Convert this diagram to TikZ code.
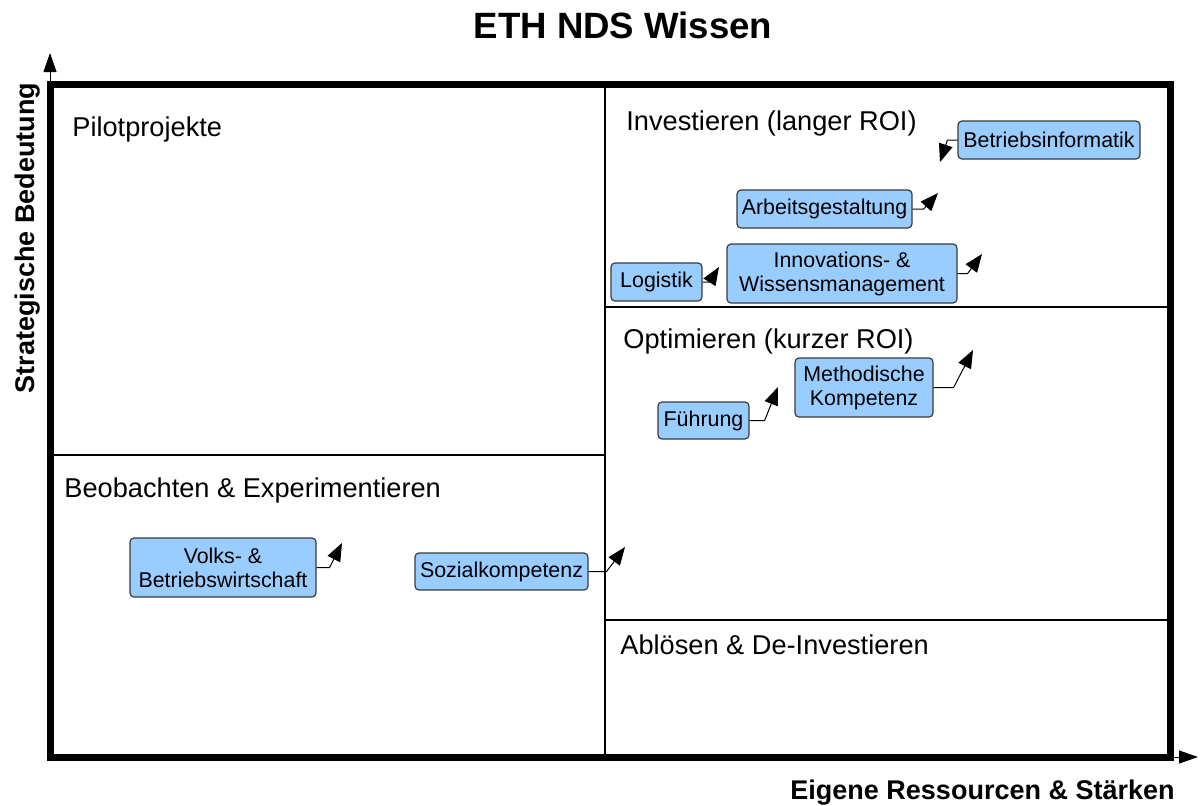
\documentclass[tikz,border=0pt]{standalone}
\usepackage{fontspec}
\setmainfont{Liberation Sans}
\usetikzlibrary{arrows.meta}
\definecolor{boxblue}{HTML}{99CCFF}
\definecolor{boxline}{HTML}{3A3A3A}
\begin{document}
\begin{tikzpicture}[x=0.5pt,y=-0.5pt,
  topic/.style={draw=boxline, fill=boxblue, line width=0.6pt, rounded corners=2pt,
    inner sep=0pt, align=center, font=\fontsize{10.7}{12}\selectfont},
  trend/.style={draw=black, line width=0.5pt, -{Triangle[length=9pt,width=7pt]}},
  quad/.style={anchor=base west, inner sep=0pt, font=\fontsize{13.6}{16}\selectfont},
  axislabel/.style={inner sep=0pt, font=\bfseries\fontsize{13.5}{16}\selectfont},
  axisarrow/.style={line width=0.5pt, -{Triangle[length=9.5pt,width=6.5pt]}},
  divider/.style={line width=0.6pt}
]
\useasboundingbox (0,0) rectangle (1200,805);

% corners of the portfolio frame
\coordinate (tl) at (50,84);
\coordinate (br) at (1170,757);
\coordinate (ytip) at (50,53);
\coordinate (xtip) at (1198,757);

% axes
\draw[axisarrow] (tl) -- (ytip);
\draw[axisarrow] (br) -- (xtip);

% quadrant dividers
\draw[divider] (605,84) -- (605,757);
\draw[divider] (50,455) -- (605,455);
\draw[divider] (605,307) -- (1170,307);
\draw[divider] (605,620) -- (1170,620);

% outer frame
\draw[line width=3.5pt] (tl) rectangle (br);

% titles
\node[anchor=base, inner sep=0pt, font=\bfseries\fontsize{18.3}{22}\selectfont] (title) at (623,38) {ETH NDS Wissen};
\node[axislabel, anchor=base east] (xlab) at (1175,799) {Eigene Ressourcen \& Stärken};
\node[axislabel, rotate=90, anchor=base] (ylab) at (34,238) {Strategische Bedeutung};

% quadrant names
\node[quad] (q1) at (72,136) {Pilotprojekte};
\node[quad] (q2) at (626,130) {Investieren (langer ROI)};
\node[quad] (q3) at (623,348) {Optimieren (kurzer ROI)};
\node[quad] (q4) at (64,497) {Beobachten \& Experimentieren};
\node[quad] (q5) at (620,654) {Ablösen \& De-Investieren};

% topics
\node[topic, minimum width=91pt, minimum height=19pt] (b1) at (1049,140) {Betriebsinformatik};
\node[topic, minimum width=87.5pt, minimum height=19pt] (b2) at (824.5,209) {Arbeitsgestaltung};
\node[topic, minimum width=115pt, minimum height=29.5pt] (b3) at (842,273.5) {Innovations- \&\\Wissensmanagement};
\node[topic, minimum width=45.5pt, minimum height=19pt] (b4) at (656.5,282) {Logistik};
\node[topic, minimum width=69pt, minimum height=29.5pt] (b5) at (864,387.5) {Methodische\\Kompetenz};
\node[topic, minimum width=45.5pt, minimum height=18.5pt] (b6) at (703.5,420.5) {Führung};
\node[topic, minimum width=93pt, minimum height=29.5pt] (b7) at (223,567.5) {Volks- \&\\Betriebswirtschaft};
\node[topic, minimum width=86.5pt, minimum height=18.5pt] (b8) at (501.5,571.5) {Sozialkompetenz};

% trend tips
\coordinate (t1) at (940,162);
\coordinate (t2) at (938,193);
\coordinate (t3) at (982,254);
\coordinate (t4) at (719,267);
\coordinate (t5) at (973,350);
\coordinate (t6) at (778,387);
\coordinate (t7) at (342,543);
\coordinate (t8) at (625,547);

% trend arrows
\draw[trend] (b1.west) -- ++(-10,0) -- (t1);
\draw[trend] (b2.east) -- ++(11,0) -- (t2);
\draw[trend] (b3.east) -- ++(10,0) -- (t3);
\draw[trend] (b4.east) -- ++(7,0) -- (t4);
\draw[trend] (b5.east) -- ++(20,0) -- (t5);
\draw[trend] (b6.east) -- ++(15,0) -- (t6);
\draw[trend] (b7.east) -- ++(13,0) -- (t7);
\draw[trend] (b8.east) -- ++(18,0) -- (t8);
\end{tikzpicture}
\end{document}
